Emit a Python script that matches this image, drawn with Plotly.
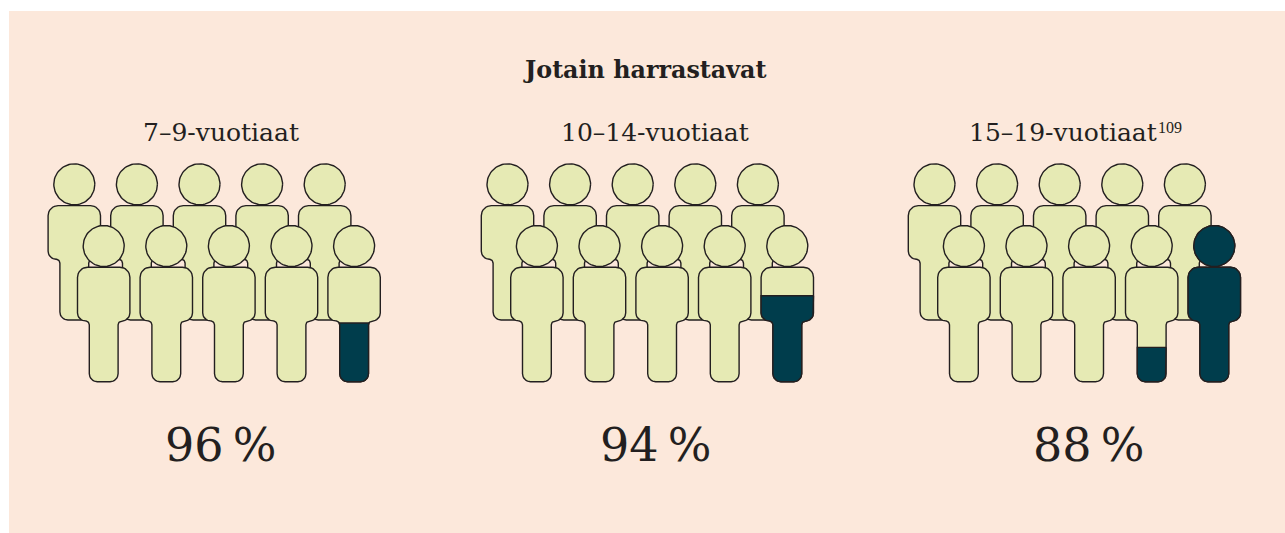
import math
import plotly.graph_objects as go

# ---- data ----
title = "Jotain harrastavat"
group_labels = ["7–9-vuotiaat", "10–14-vuotiaat", "15–19-vuotiaat"]
group_notes = ["", "", "109"]
percent_values = [96, 94, 88]
full_dark_figures = [0, 0, 1]          # figures completely filled
partial_dark_share = [0.376, 0.55, 0.22]  # filled share of the next figure

# ---- layout constants ----
W, H = 1285, 533
PANEL = (9, 1285, 11, 533)
BG, LIGHT, DARK, INK = "#FCE8DB", "#E6EAB4", "#003D4C", "#231F20"
FONT = "DejaVu Serif"
GROUP_X = [74.3, 507.5, 934.5]
LABEL_X = [221, 655, 1063]
PCT_X = [220, 655, 1088]
STEP_X, ROW_DX, ROW_DY = 62.6, 29.4, 61.7
HEAD_Y, HEAD_R = 184.3, 20.5
BODY_TOP, TORSO_BOT, FOOT = 205.6, 259.2, 320.0
HALF_W, HALF_L = 26.2, 14.4


def fillet(vertices):
    """Rounded closed polygon from (x, y, radius) corners."""
    pts, n = [], len(vertices)
    for i, (x, y, r) in enumerate(vertices):
        px, py, _ = vertices[i - 1]
        nx, ny, _ = vertices[(i + 1) % n]
        a = (px - x, py - y)
        b = (nx - x, ny - y)
        la, lb = math.hypot(*a), math.hypot(*b)
        a = (a[0] / la, a[1] / la)
        b = (b[0] / lb, b[1] / lb)
        p0 = (x + a[0] * r, y + a[1] * r)
        p1 = (x + b[0] * r, y + b[1] * r)
        for k in range(9):
            t = k / 8
            w0, w1, w2 = (1 - t) ** 2, 2 * t * (1 - t) * 0.7071, t ** 2
            s = w0 + w1 + w2
            pts.append(((w0 * p0[0] + w1 * x + w2 * p1[0]) / s,
                        (w0 * p0[1] + w1 * y + w2 * p1[1]) / s))
    pts.append(pts[0])
    return pts


def body_poly(cx, dy):
    t, m, f = BODY_TOP + dy, TORSO_BOT + dy, FOOT + dy
    return fillet([
        (cx - HALF_W, t, 10), (cx + HALF_W, t, 10), (cx + HALF_W, m, 8),
        (cx + HALF_L, m, 4), (cx + HALF_L, f, 8), (cx - HALF_L, f, 8),
        (cx - HALF_L, m, 4), (cx - HALF_W, m, 8),
    ])


def head_poly(cx, dy):
    return [(cx + HEAD_R * math.cos(2 * math.pi * i / 72),
             HEAD_Y + dy + HEAD_R * math.sin(2 * math.pi * i / 72)) for i in range(73)]


def clip_below(poly, level):
    """Keep the part of a polygon lying below the level (larger y)."""
    out = []
    for (x0, y0), (x1, y1) in zip(poly, poly[1:]):
        if y0 >= level:
            out.append((x0, y0))
        if (y0 >= level) != (y1 >= level):
            t = (level - y0) / (y1 - y0)
            out.append((x0 + t * (x1 - x0), level))
    if out:
        out.append(out[0])
    return out


fig = go.Figure()


def add_poly(poly, color):
    if len(poly) < 3:
        return
    fig.add_trace(go.Scatter(
        x=[p[0] for p in poly], y=[p[1] for p in poly], mode="lines",
        fill="toself", fillcolor=color, line=dict(color=INK, width=1.4),
        hoverinfo="skip", showlegend=False))


for g, gx in enumerate(GROUP_X):
    # back row
    for i in range(5):
        cx = gx + i * STEP_X
        add_poly(head_poly(cx, 0), LIGHT)
        add_poly(body_poly(cx, 0), LIGHT)
    # front row: dark figures count from the right
    for i in range(5):
        cx = gx + ROW_DX + i * STEP_X
        from_right = 4 - i
        head, body = head_poly(cx, ROW_DY), body_poly(cx, ROW_DY)
        add_poly(head, LIGHT)
        add_poly(body, LIGHT)
        if from_right < full_dark_figures[g]:
            share = 1.0
        elif from_right == full_dark_figures[g]:
            share = partial_dark_share[g]
        else:
            share = 0.0
        if share > 0:
            top = HEAD_Y + ROW_DY - HEAD_R
            bottom = FOOT + ROW_DY
            level = bottom - share * (bottom - top)
            add_poly(clip_below(head, level), DARK)
            add_poly(clip_below(body, level), DARK)

annotations = [dict(x=644.5, y=70, text=f"<b>{title}</b>", xanchor="center",
                    font=dict(size=23.8, family=FONT, color=INK))]
for x, label, note in zip(LABEL_X, group_labels, group_notes):
    annotations.append(dict(x=x, y=132, text=label, xanchor="center",
                            font=dict(size=25, family=FONT, color=INK)))
    if note:
        annotations.append(dict(x=x + 93, y=127, text=note, xanchor="left",
                                font=dict(size=16, family="Liberation Serif", color=INK)))
for x, v in zip(PCT_X, percent_values):
    annotations.append(dict(x=x, y=444.5, text=f"{v}\u2009%", xanchor="center",
                            font=dict(size=46, family=FONT, color=INK)))
for a in annotations:
    a.update(showarrow=False, xref="x", yref="y", yanchor="middle")

fig.update_layout(
    width=W, height=H, margin=dict(l=0, r=0, t=0, b=0),
    paper_bgcolor="white", plot_bgcolor="white",
    xaxis=dict(range=[0, W], visible=False, fixedrange=True),
    yaxis=dict(range=[H, 0], visible=False, fixedrange=True),
    shapes=[dict(type="rect", layer="below", xref="x", yref="y",
                 x0=PANEL[0], x1=PANEL[1], y0=PANEL[2], y1=PANEL[3],
                 fillcolor=BG, line=dict(width=0))],
    annotations=annotations,
)

fig.write_html("out.html", config=dict(displayModeBar=False),
               post_script="document.body.style.margin='0';document.body.style.overflow='hidden';")
